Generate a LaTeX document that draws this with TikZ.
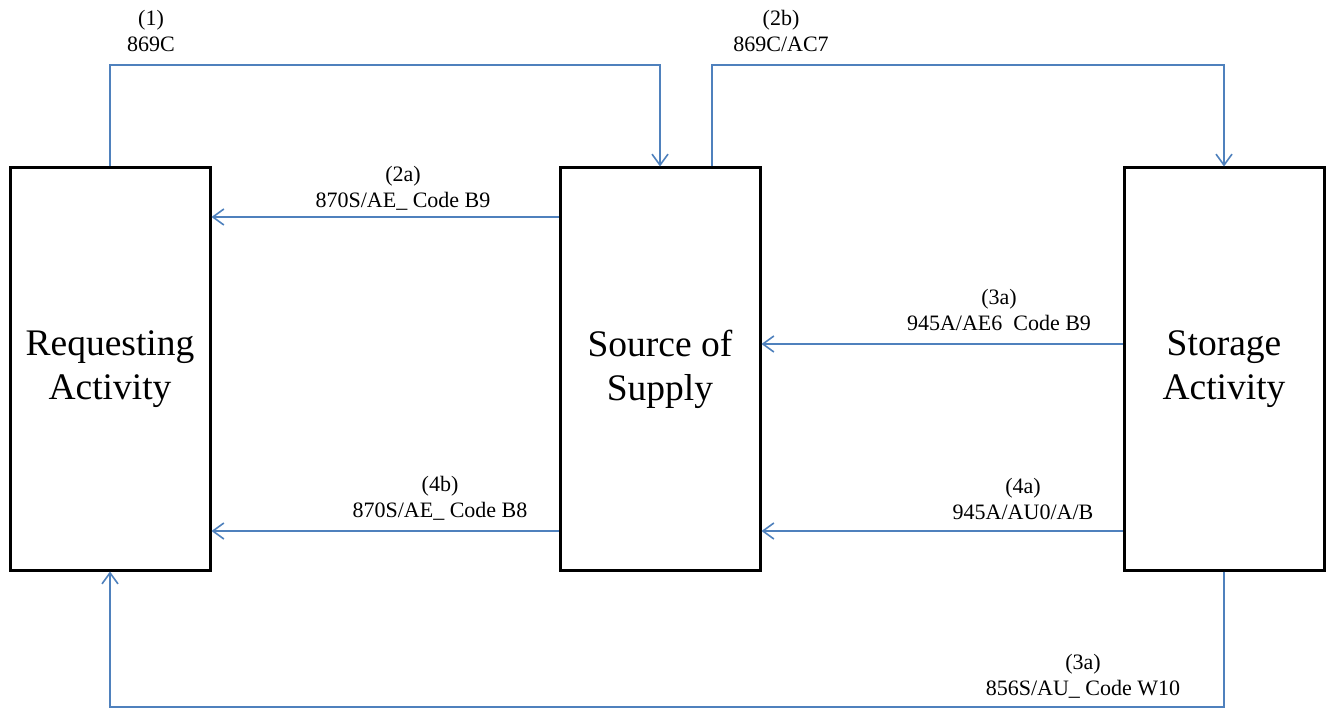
\documentclass[tikz,border=0pt]{standalone}
\usepackage{fontspec}
\setmainfont{Liberation Serif}
\usetikzlibrary{arrows.meta, positioning, calc}

\definecolor{flowblue}{RGB}{79,129,189}

\begin{document}
\begin{tikzpicture}[
    x=1pt, y=-1pt,
    every node/.style={align=center},
    activity/.style={rectangle, draw=black, line width=3pt, minimum width=200pt, minimum height=402pt, inner sep=0pt, font=\fontsize{37.5}{44}\selectfont},
    flow/.style={-{Straight Barb[length=11pt, width=16pt]}, line width=1.6pt, flowblue},
    msg/.style={inner sep=0pt, font=\fontsize{22}{26}\selectfont}
]
\useasboundingbox (0,0) rectangle (1327,708);

% Activities
\node[activity] (req) at (110,369) {Requesting\\Activity};
\node[activity] (src) at (660,369) {Source of\\Supply};
\node[activity] (sto) at (1224,369) {Storage\\Activity};

% Rails above and below the boxes
\coordinate (toprail) at (0,65);
\coordinate (botrail) at (0,707);

% (1) and (2b): over the top
\draw[flow] (req.north) |- (toprail -| src.north) -- (src.north);
\draw[flow] ([xshift=52pt]src.north) |- (toprail -| sto.north) -- (sto.north);

% (2a), (4b): back to the requester
\draw[flow] ([yshift=152pt]src.west) -- ([yshift=152pt]req.east);
\draw[flow] ([yshift=-162pt]src.west) -- ([yshift=-162pt]req.east);

% (3a), (4a): storage to source
\draw[flow] ([yshift=25pt]sto.west) -- ([yshift=25pt]src.east);
\draw[flow] ([yshift=-162pt]sto.west) -- ([yshift=-162pt]src.east);

% (3a): under the bottom
\draw[flow] (sto.south) |- (botrail -| req.south) -- (req.south);

% Transaction labels
\node[msg] (lab1) at (151,30.5) {(1)\\869C};
\node[msg] (lab2b) at (781,30.5) {(2b)\\869C/AC7};
\node[msg] (lab2a) at (403,188.5) {(2a)\\870S/AE\_ Code B9};
\node[msg] (lab3a) at (999,310) {(3a)\\945A/AE6\ \ Code B9};
\node[msg] (lab4b) at (440,498.5) {(4b)\\870S/AE\_ Code B8};
\node[msg] (lab4a) at (1023,498.5) {(4a)\\945A/AU0/A/B};
\node[msg] (lab3w) at (1083,676) {(3a)\\856S/AU\_ Code W10};

\end{tikzpicture}
\end{document}
